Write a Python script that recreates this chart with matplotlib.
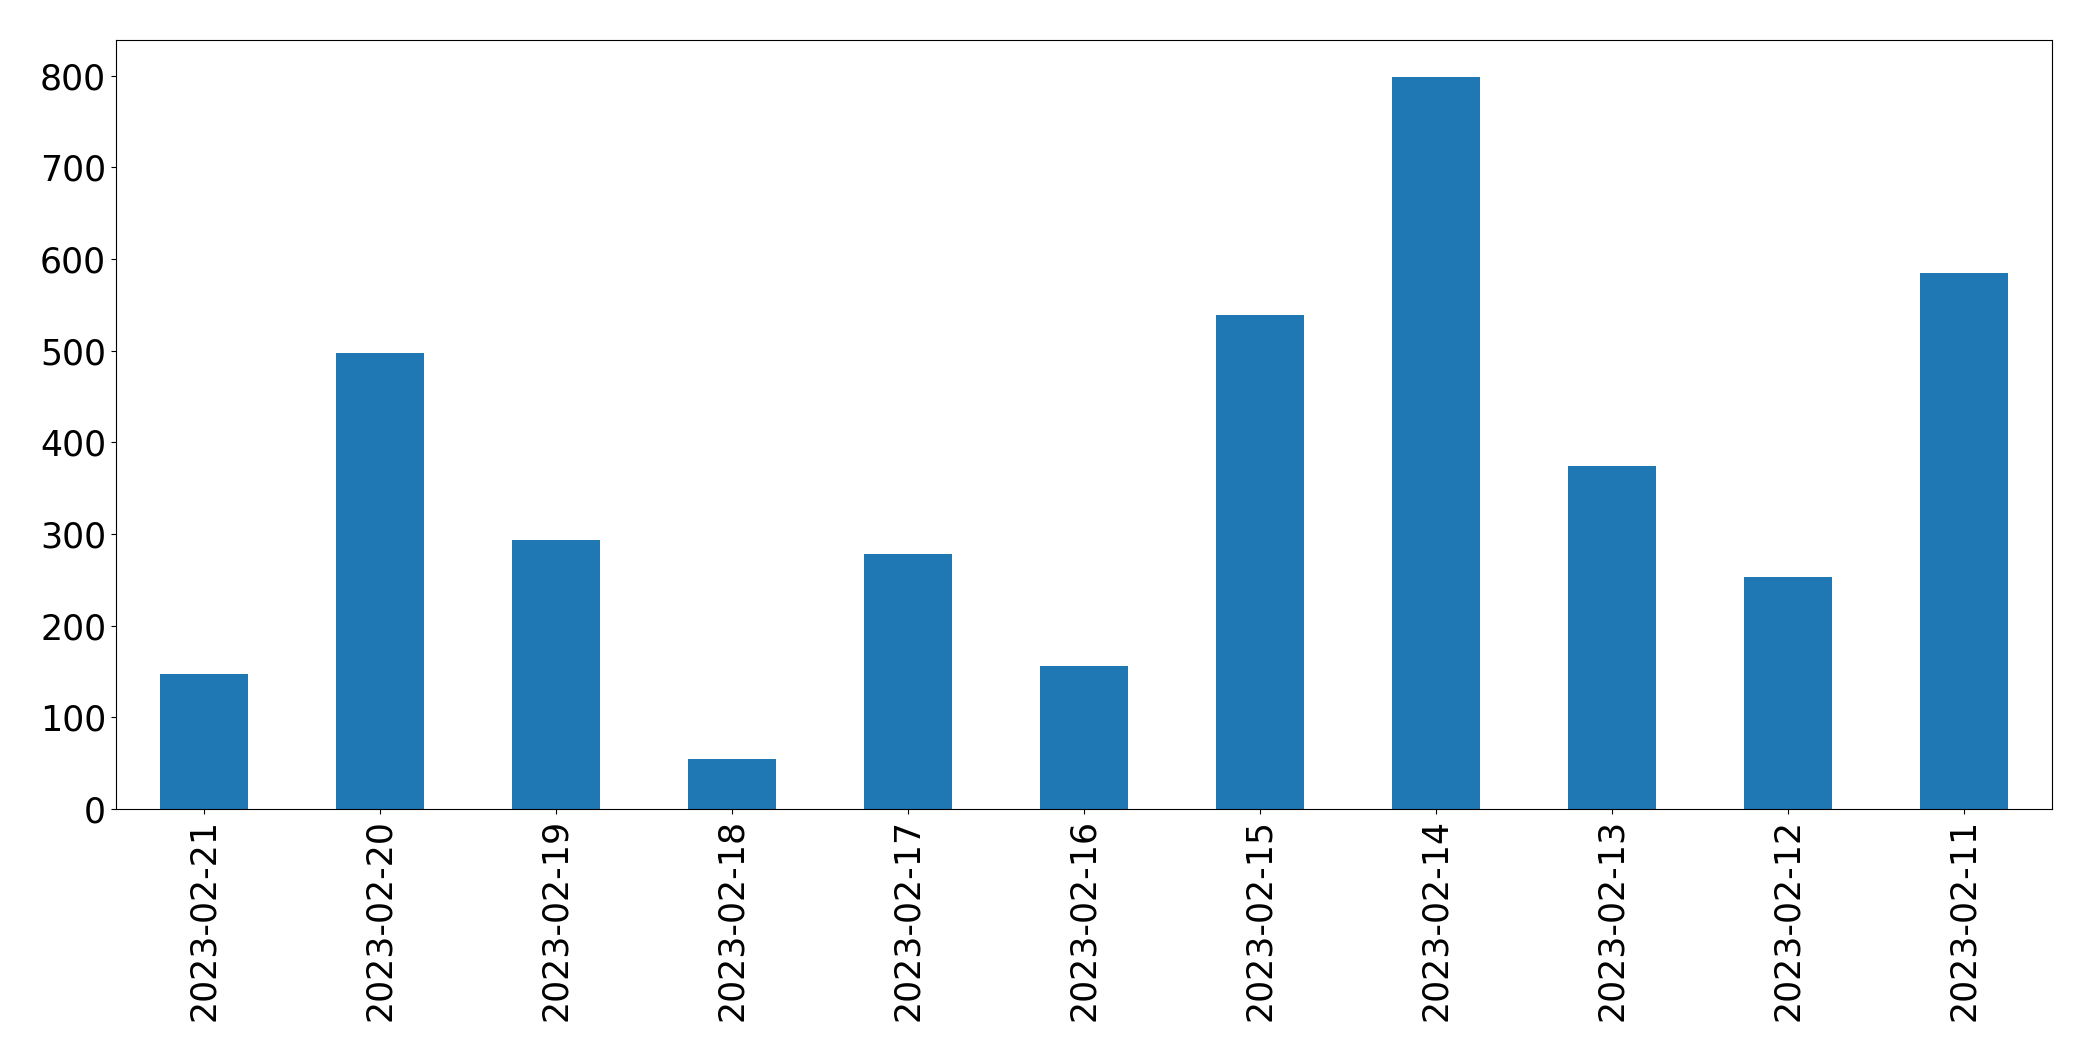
import matplotlib
matplotlib.use("Agg")
import matplotlib.pyplot as plt

# dates (newest first, as in the chart)
dates = ["2023-02-21", "2023-02-20", "2023-02-19", "2023-02-18", "2023-02-17",
         "2023-02-16", "2023-02-15", "2023-02-14", "2023-02-13", "2023-02-12",
         "2023-02-11"]
counts = [147, 498, 294, 55, 278, 156, 539, 799, 374, 253, 585]

fig = plt.figure(figsize=(20.93, 10.61), dpi=100)
ax = fig.add_axes([0.0554, 0.2375, 0.925, 0.7248])

x = range(len(dates))
ax.bar(x, counts, width=0.5, color="#1f77b4")
ax.set_xticks(list(x))
ax.set_xticklabels(dates, rotation=90, fontsize=25)
ax.tick_params(axis="y", labelsize=25)
ax.set_xlim(-0.5, len(dates) - 0.5)
ax.set_ylim(0, max(counts) * 1.05)

fig.savefig("out.png", dpi=100)
